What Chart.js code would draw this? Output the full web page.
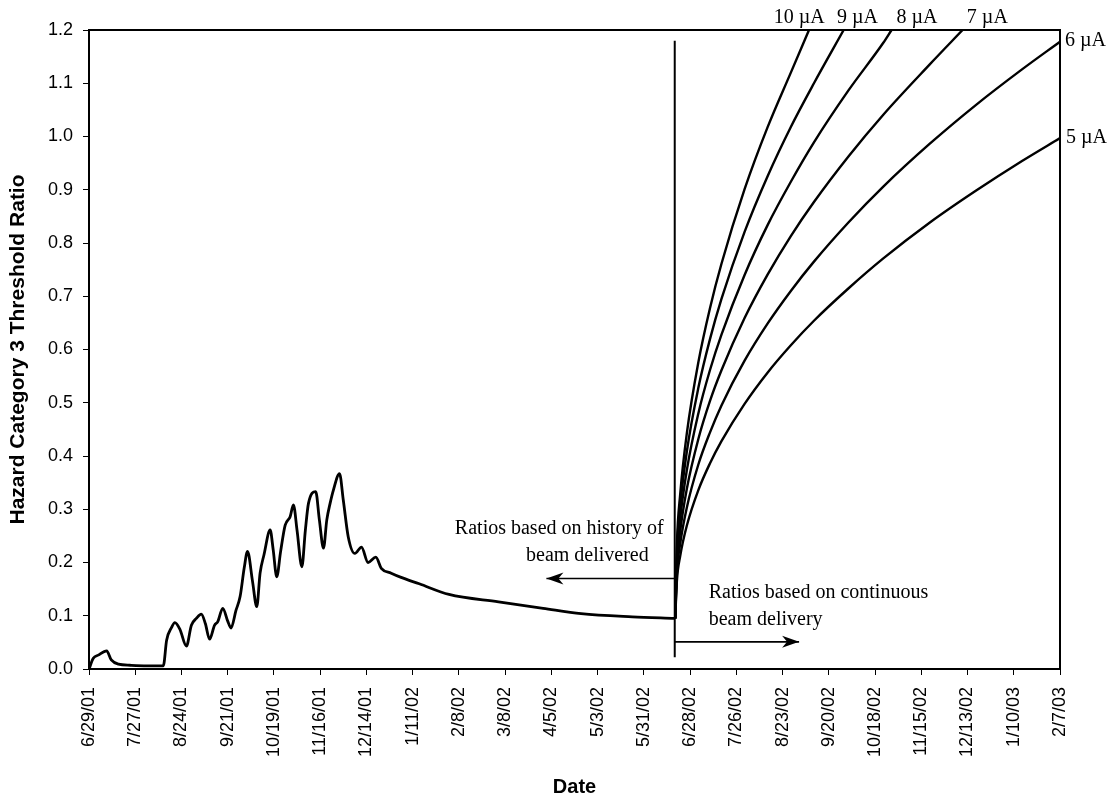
<!DOCTYPE html>
<html>
<head>
<meta charset="utf-8">
<script src="https://cdn.jsdelivr.net/npm/chart.js@4.4.1/dist/chart.umd.min.js"></script>
<style>
  html, body { margin: 0; padding: 0; background: #ffffff; }
  #wrap { width: 1112px; height: 800px; }
</style>
</head>
<body>
<div id="wrap"><canvas id="c" width="1112" height="800"></canvas></div>
<script>
// ---- Tick labels (x axis: one every 28 days starting 6/29/01) ----
const xTickLabels = ['6/29/01','7/27/01','8/24/01','9/21/01','10/19/01','11/16/01','12/14/01',
  '1/11/02','2/8/02','3/8/02','4/5/02','5/3/02','5/31/02','6/28/02','7/26/02','8/23/02',
  '9/20/02','10/18/02','11/15/02','12/13/02','1/10/03','2/7/03'];

// ---- History of beam delivered (x = days since 6/29/01) ----
const histDays = [0, 2.6, 5.6, 10.7, 13.5, 17.8, 25, 35, 45,
  47, 50, 52, 55, 59, 62, 65, 68, 70.5, 73,
  76, 78, 81, 84, 86, 89, 91.5, 94, 96, 99,
  101.6, 103.6, 106, 109.7, 111.5, 113.7, 116, 118.8, 121.8, 123.8,
  126, 128.9, 131, 132.9, 137.3, 139.5, 142, 144, 146, 148,
  151.7, 154, 157, 161, 165, 169, 173.7, 177, 183, 189,
  200, 218, 248, 275, 298, 329, 354.7];
const histRatio = [0, 0.020, 0.026, 0.034, 0.017, 0.009, 0.007, 0.006, 0.006,
  0.054, 0.078, 0.087, 0.075, 0.043, 0.082, 0.095, 0.103, 0.085, 0.056,
  0.082, 0.089, 0.114, 0.090, 0.077, 0.110, 0.136, 0.190, 0.221, 0.165,
  0.117, 0.180, 0.215, 0.261, 0.225, 0.173, 0.220, 0.270, 0.286, 0.308,
  0.260, 0.192, 0.260, 0.311, 0.333, 0.280, 0.227, 0.280, 0.311, 0.336,
  0.367, 0.317, 0.248, 0.217, 0.229, 0.200, 0.210, 0.189, 0.180, 0.172,
  0.160, 0.140, 0.126, 0.114, 0.104, 0.098, 0.095];

// ---- Continuous beam delivery projections ----
const days5  = [355, 356, 358, 362, 369, 376, 383, 397, 411, 425, 439, 460, 481, 509, 537, 565, 588];
const ratio5 = [0.095, 0.165, 0.212, 0.269, 0.336, 0.386, 0.428, 0.498, 0.557, 0.608, 0.654, 0.715, 0.771, 0.838, 0.898, 0.954, 0.997];
const days6  = [355, 356, 358, 362, 369, 376, 383, 397, 411, 425, 439, 460, 481, 509, 537, 565, 588];
const ratio6 = [0.095, 0.179, 0.235, 0.303, 0.384, 0.444, 0.495, 0.579, 0.649, 0.710, 0.765, 0.839, 0.906, 0.986, 1.059, 1.126, 1.178];
const days7  = [355, 356, 358, 362, 369, 376, 383, 397, 411, 425, 439, 460, 481, 509, 529];
const ratio7 = [0.095, 0.192, 0.258, 0.338, 0.432, 0.503, 0.561, 0.659, 0.741, 0.813, 0.877, 0.963, 1.041, 1.135, 1.200];
const days8  = [355, 356, 358, 362, 369, 376, 383, 397, 411, 425, 439, 460, 481, 486];
const ratio8 = [0.095, 0.206, 0.282, 0.373, 0.480, 0.561, 0.628, 0.740, 0.834, 0.915, 0.989, 1.087, 1.176, 1.200];
const days9  = [355, 356, 358, 362, 369, 376, 383, 397, 411, 425, 439, 457];
const ratio9 = [0.095, 0.220, 0.305, 0.408, 0.528, 0.619, 0.695, 0.821, 0.926, 1.018, 1.100, 1.200];
const days10  = [355, 356, 358, 362, 369, 376, 383, 397, 411, 425, 436];
const ratio10 = [0.095, 0.234, 0.328, 0.442, 0.576, 0.677, 0.761, 0.901, 1.018, 1.120, 1.200];

// ---- Divider line and arrows ----
const dividerDays  = [354.7, 354.7];
const dividerRatio = [0.022, 1.18];
const leftArrowDays   = [354.7, 277];
const leftArrowRatio  = [0.170, 0.170];
const rightArrowDays  = [354.7, 430];
const rightArrowRatio = [0.051, 0.051];

const currentLabels = ['10 µA', '9 µA', '8 µA', '7 µA', '6 µA', '5 µA'];

function pts(xs, ys) { return xs.map((x, i) => ({ x: x, y: ys[i] })); }

const SANS = '"Liberation Sans", Arial, sans-serif';
const SERIF = '"Liberation Serif", "Times New Roman", serif';

function curve(xs, ys) {
  return { data: pts(xs, ys), borderColor: '#000', borderWidth: 2.4, pointRadius: 0,
           cubicInterpolationMode: 'monotone', fill: false };
}

const framePlugin = {
  id: 'frame',
  afterDraw(chart) {
    const { ctx, chartArea: a } = chart;
    ctx.save();
    ctx.strokeStyle = '#000';
    ctx.lineWidth = 2;
    ctx.beginPath();
    ctx.moveTo(a.left, a.top);
    ctx.lineTo(a.right, a.top);
    ctx.lineTo(a.right, a.bottom);
    ctx.stroke();
    ctx.restore();
  }
};

const arrowPlugin = {
  id: 'arrows',
  afterDatasetsDraw(chart) {
    const ctx = chart.ctx;
    chart.data.datasets.forEach((ds, i) => {
      if (!ds.arrow) return;
      const meta = chart.getDatasetMeta(i);
      const p = meta.data[meta.data.length - 1];
      const dir = ds.arrow === 'left' ? -1 : 1;
      ctx.save();
      ctx.fillStyle = '#000';
      ctx.beginPath();
      ctx.moveTo(p.x, p.y);
      ctx.lineTo(p.x - dir * 17, p.y - 6);
      ctx.lineTo(p.x - dir * 12, p.y);
      ctx.lineTo(p.x - dir * 17, p.y + 6);
      ctx.closePath();
      ctx.fill();
      ctx.restore();
    });
  }
};

const textPlugin = {
  id: 'texts',
  afterDraw(chart) {
    const { ctx, chartArea: a } = chart;
    const xs = chart.scales.x, ys = chart.scales.y;
    ctx.save();
    ctx.fillStyle = '#000';
    ctx.font = '20px ' + SERIF;
    ctx.textBaseline = 'alphabetic';
    // current labels along the top
    const topDays = [414.7, 453, 489, 531.6];
    ctx.textAlign = 'left';
    for (let i = 0; i < 4; i++) {
      ctx.fillText(currentLabels[i], xs.getPixelForValue(topDays[i]), a.top - 7);
    }
    // current labels on the right side
    ctx.fillText(currentLabels[4], a.right + 5, ys.getPixelForValue(ratio6[ratio6.length - 1]) + 4);
    ctx.fillText(currentLabels[5], a.right + 6, ys.getPixelForValue(ratio5[ratio5.length - 1]) + 5);
    // arrow captions
    const vx = xs.getPixelForValue(dividerDays[0]);
    const ly = ys.getPixelForValue(leftArrowRatio[0]);
    const ry = ys.getPixelForValue(rightArrowRatio[0]);
    ctx.textAlign = 'right';
    ctx.fillText('Ratios based on history of', vx - 11, ly - 44);
    ctx.fillText('beam delivered', vx - 26, ly - 17);
    ctx.textAlign = 'left';
    ctx.fillText('Ratios based on continuous', vx + 34, ry - 44);
    ctx.fillText('beam delivery', vx + 34, ry - 17);
    ctx.restore();
  }
};

new Chart(document.getElementById('c'), {
  type: 'line',
  data: {
    datasets: [
      { data: pts(histDays, histRatio), borderColor: '#000', borderWidth: 2.8, pointRadius: 0,
        cubicInterpolationMode: 'monotone', fill: false },
      curve(days10, ratio10),
      curve(days9, ratio9),
      curve(days8, ratio8),
      curve(days7, ratio7),
      curve(days6, ratio6),
      curve(days5, ratio5),
      { data: pts(dividerDays, dividerRatio), borderColor: '#000', borderWidth: 2, pointRadius: 0, tension: 0 },
      { data: pts(leftArrowDays, leftArrowRatio), borderColor: '#000', borderWidth: 1.6, pointRadius: 0, tension: 0, arrow: 'left' },
      { data: pts(rightArrowDays, rightArrowRatio), borderColor: '#000', borderWidth: 1.6, pointRadius: 0, tension: 0, arrow: 'right' }
    ]
  },
  options: {
    responsive: false,
    animation: false,
    events: [],
    layout: { padding: { top: 30, right: 52, left: 0, bottom: 0 } },
    plugins: { legend: { display: false }, tooltip: { enabled: false } },
    scales: {
      x: {
        type: 'linear', min: 0, max: 588,
        afterFit: s => { s.height = 131; },
        ticks: {
          stepSize: 28, autoSkip: false, minRotation: 90, maxRotation: 90,
          color: '#000', padding: 12, font: { family: SANS, size: 18 },
          callback: v => xTickLabels[Math.round(v / 28)]
        },
        grid: { drawOnChartArea: false, drawTicks: true, tickLength: 6, color: '#000', lineWidth: 1 },
        border: { display: true, color: '#000', width: 2 },
        title: { display: true, text: 'Date', color: '#000',
                 font: { family: SANS, size: 20, weight: 'bold' }, padding: { top: 0, bottom: 1 } }
      },
      y: {
        type: 'linear', min: 0, max: 1.2,
        afterFit: s => { s.width = 89; },
        ticks: {
          stepSize: 0.1, color: '#000', padding: 10, font: { family: SANS, size: 18 },
          callback: v => v.toFixed(1)
        },
        grid: { drawOnChartArea: false, drawTicks: true, tickLength: 6, color: '#000', lineWidth: 1 },
        border: { display: true, color: '#000', width: 2 },
        title: { display: true, text: 'Hazard Category 3 Threshold Ratio', color: '#000',
                 font: { family: SANS, size: 21, weight: 'bold' }, padding: { top: 6, bottom: 0 } }
      }
    }
  },
  plugins: [framePlugin, arrowPlugin, textPlugin]
});
</script>
</body>
</html>
